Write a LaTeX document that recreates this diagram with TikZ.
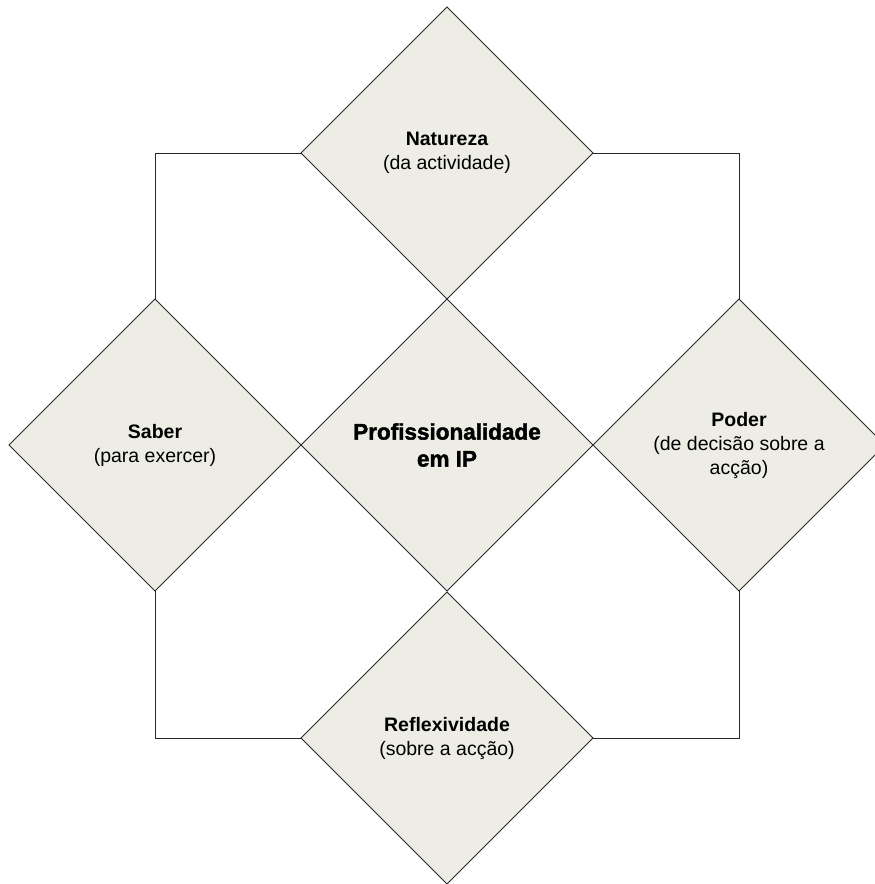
\documentclass[tikz,border=0pt]{standalone}
\usepackage{fontspec}
\setmainfont{Liberation Sans}
\newfontfamily\heavyfont[FakeBold=2]{Liberation Sans Bold}
\usetikzlibrary{shapes.geometric}
\definecolor{boxfill}{RGB}{237,237,229}
\definecolor{boxline}{RGB}{40,40,40}
\tikzset{
  diam/.style={diamond, draw=boxline, fill=boxfill, line width=0.9pt,
    minimum width=292pt, minimum height=292pt, inner sep=0pt, outer sep=0pt,
    align=center, font=\fontsize{19.5}{24}\selectfont,
    execute at begin node=\rule{0pt}{20pt}},
  hub/.style={diam, font=\fontsize{22.5}{27}\heavyfont},
  link/.style={draw=boxline, line width=0.9pt}
}
\begin{document}
\begin{tikzpicture}[x=1pt, y={(0pt,-1pt)}]
  \useasboundingbox (0,0) rectangle (875,884);
  \clip (0,0) rectangle (875,884);
  % the four outer diamonds and the central one
  \node[diam] (nat) at (447,153) {\textbf{Natureza}\\(da actividade)};
  \node[diam] (sab) at (155,445) {\textbf{Saber}\\(para exercer)};
  \node[diam] (pod) at (739,445) {\textbf{Poder}\\(de decisão sobre a\\acção)};
  \node[diam] (ref) at (447,738) {\textbf{Reflexividade}\\(sobre a acção)};
  \node[hub] (ip) at (447,445) {Profissionalidade\\em IP};
  % outer ring connectors
  \draw[link] (nat.west) -| (sab.north);
  \draw[link] (nat.east) -| (pod.north);
  \draw[link] (sab.south) |- (ref.west);
  \draw[link] (pod.south) |- (ref.east);
\end{tikzpicture}
\end{document}
